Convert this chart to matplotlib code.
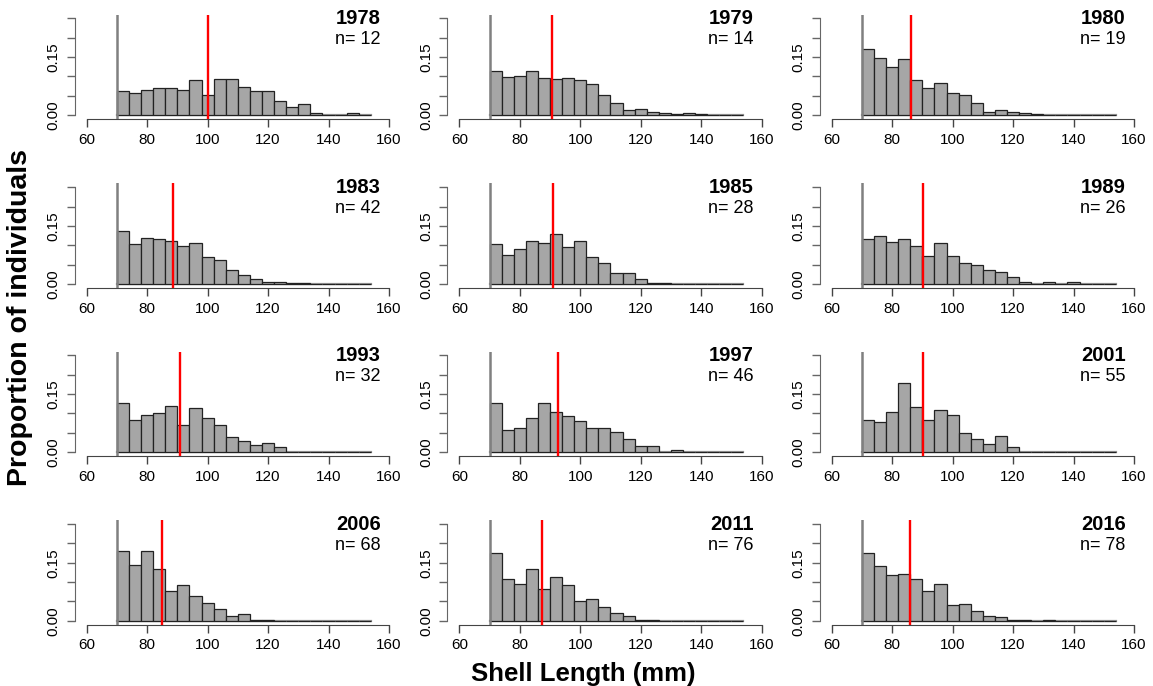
import matplotlib.pyplot as plt
import numpy as np

plt.rcParams['font.family'] = ['Liberation Sans', 'DejaVu Sans']

# histogram bins: 70-154 mm, width 4
bin_edges = np.arange(70, 155, 4)

years = ['1978', '1979', '1980', '1983', '1985', '1989',
         '1993', '1997', '2001', '2006', '2011', '2016']
ns = [12, 14, 19, 42, 28, 26, 32, 46, 55, 68, 76, 78]
means = [100.1, 90.6, 86.2, 88.7, 91.0, 90.3, 90.9, 92.5, 90.3, 84.8, 87.4, 85.9]

# proportion of individuals per bin (21 bins)
p1978 = [0.062, 0.056, 0.064, 0.070, 0.070, 0.064, 0.090, 0.053, 0.094, 0.094, 0.072,
         0.061, 0.063, 0.037, 0.022, 0.028, 0.004, 0, 0, 0.004, 0]
p1979 = [0.113, 0.098, 0.102, 0.113, 0.095, 0.093, 0.096, 0.091, 0.080, 0.052, 0.030,
         0.012, 0.016, 0.009, 0.005, 0.003, 0.004, 0.003, 0, 0, 0]
p1980 = [0.172, 0.148, 0.124, 0.145, 0.091, 0.070, 0.084, 0.056, 0.053, 0.031, 0.009,
         0.013, 0.007, 0.004, 0.003, 0, 0, 0, 0, 0, 0]
p1983 = [0.136, 0.102, 0.118, 0.116, 0.110, 0.099, 0.107, 0.069, 0.061, 0.035, 0.024,
         0.014, 0.006, 0.006, 0.0035, 0.002, 0, 0, 0, 0, 0]
p1985 = [0.102, 0.076, 0.090, 0.112, 0.107, 0.129, 0.095, 0.110, 0.069, 0.053, 0.029,
         0.027, 0.013, 0.002, 0.002, 0, 0, 0, 0, 0, 0]
p1989 = [0.115, 0.125, 0.108, 0.115, 0.097, 0.072, 0.107, 0.072, 0.053, 0.048, 0.037,
         0.032, 0.019, 0.006, 0, 0.006, 0, 0.006, 0, 0, 0]
p1993 = [0.128, 0.083, 0.096, 0.100, 0.120, 0.071, 0.114, 0.088, 0.069, 0.040, 0.028,
         0.019, 0.024, 0.012, 0, 0, 0, 0, 0, 0, 0]
p1997 = [0.128, 0.058, 0.063, 0.088, 0.126, 0.103, 0.094, 0.081, 0.062, 0.062, 0.053,
         0.034, 0.016, 0.016, 0, 0.004, 0, 0, 0, 0, 0]
p2001 = [0.082, 0.077, 0.103, 0.178, 0.116, 0.082, 0.109, 0.095, 0.048, 0.033, 0.020,
         0.041, 0.013, 0, 0, 0, 0, 0, 0, 0, 0]
p2006 = [0.181, 0.145, 0.181, 0.134, 0.076, 0.093, 0.063, 0.046, 0.031, 0.011, 0.017,
         0.003, 0.003, 0, 0, 0, 0, 0, 0, 0, 0]
p2011 = [0.174, 0.109, 0.096, 0.134, 0.082, 0.113, 0.093, 0.052, 0.057, 0.036, 0.020,
         0.012, 0.003, 0.003, 0, 0, 0, 0, 0, 0, 0]
p2016 = [0.176, 0.142, 0.119, 0.122, 0.109, 0.078, 0.096, 0.041, 0.043, 0.026, 0.012,
         0.010, 0.003, 0.001, 0, 0.001, 0, 0, 0, 0, 0]
props = [p1978, p1979, p1980, p1983, p1985, p1989,
         p1993, p1997, p2001, p2006, p2011, p2016]

W, H = 1153, 686
fig = plt.figure(figsize=(W / 100, H / 100), dpi=100)

# panel regions in pixels (left edges of columns, top/bottom of rows)
col_left = [74.6, 447.2, 819.6]
col_w = 326.5
row_top = [14.5, 183.4, 351.5, 520.2]
row_h = 104.4

axcol = '#444444'
for i in range(12):
    r, c = divmod(i, 3)
    ax = fig.add_axes([col_left[c] / W, 1 - (row_top[r] + row_h) / H,
                       col_w / W, row_h / H])
    ax.bar(bin_edges[:-1], props[i], width=4, align='edge',
           color='#A6A6A6', edgecolor='#222222', linewidth=0.9, zorder=2)
    ax.plot([70, 154], [0, 0], color='#999999', lw=1.6, zorder=1)
    ax.axvline(70, color='#808080', lw=1.8, zorder=3)
    ax.axvline(means[i], color='red', lw=1.7, zorder=4)

    ax.set_xlim(56, 164)
    ax.set_ylim(-0.01, 0.26)
    for s in ['top', 'right']:
        ax.spines[s].set_visible(False)
    ax.spines['left'].set_bounds(0, 0.25)
    ax.spines['bottom'].set_bounds(60, 160)
    ax.spines['left'].set_color('#666666')
    ax.spines['bottom'].set_color(axcol)
    ax.set_xticks([60, 80, 100, 120, 140, 160])
    ax.set_yticks([0, 0.05, 0.10, 0.15, 0.20, 0.25])
    ax.set_yticklabels(['0.00', '', '', '0.15', '', ''], rotation=90, va='center')
    ax.tick_params(axis='x', length=6, width=1, color=axcol, labelsize=11, pad=4)
    ax.tick_params(axis='y', length=6, width=1, color='#666666', labelsize=11, pad=4)
    ax.patch.set_alpha(0)

    ax.text(0.9375, 0.957, years[i], transform=ax.transAxes, ha='right', va='center',
            fontsize=14.5, fontweight='bold')
    ax.text(0.9375, 0.76, 'n= %d' % ns[i], transform=ax.transAxes, ha='right',
            va='center', fontsize=13)

fig.text(20 / W, 1 - 318 / H, 'Proportion of individuals', rotation=90,
         ha='center', va='center', fontsize=20.5, fontweight='bold')
fig.text(583 / W, 1 - 674 / H, 'Shell Length (mm)', ha='center', va='center',
         fontsize=18.5, fontweight='bold')

fig.savefig('out.png', dpi=100)
